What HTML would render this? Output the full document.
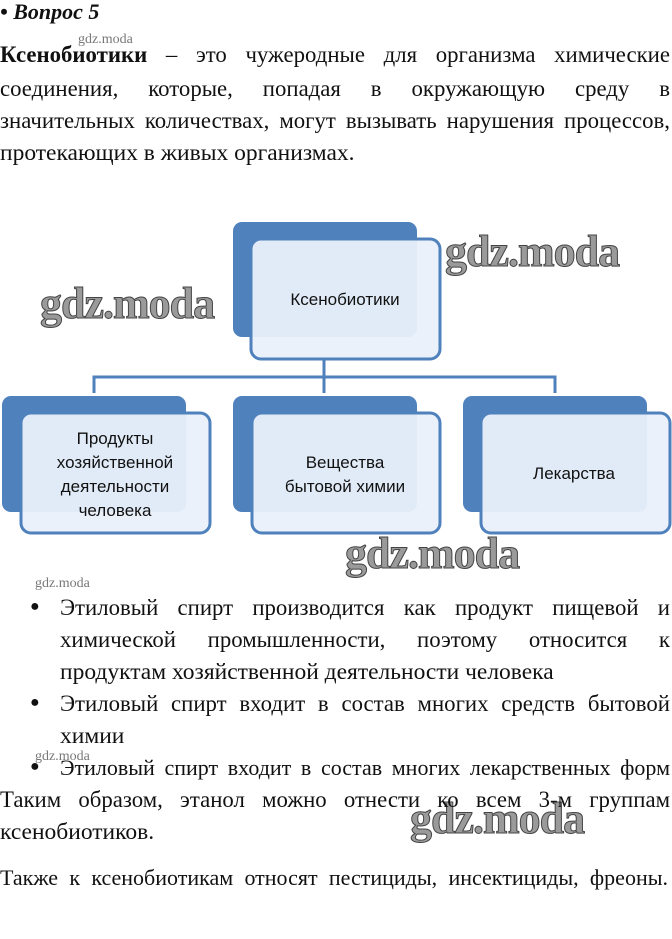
<!DOCTYPE html>
<html><head><meta charset="utf-8"><style>
body{margin:0;background:#fff;}
#p{position:relative;width:672px;height:939px;overflow:hidden;font-family:"Liberation Serif",serif;font-size:22.8px;color:#111;}
.l{position:absolute;white-space:nowrap;line-height:22px;}
.j{text-align:justify;text-align-last:justify;}
.wm{position:absolute;font-family:"Liberation Serif",serif;font-weight:bold;color:#9a9a9a;-webkit-text-stroke:1px #444;white-space:nowrap;letter-spacing:-1px;}
.sw{position:absolute;font-family:"Liberation Serif",serif;color:#777;font-size:14px;white-space:nowrap;}
.b{position:absolute;left:30px;font-size:16px;}
</style></head><body><div id="p">
<div class="l" style="left:0;top:1px;font-weight:bold;font-style:italic;font-size:22px;">• Вопрос 5</div>
<div class="sw" style="left:78px;top:32px;">gdz.moda</div>
<div class="l j" style="left:0;top:44px;width:670px;"><b>Ксенобиотики</b> – это чужеродные для организма химические</div>
<div class="l j" style="left:0;top:78px;width:670px;">соединения, которые, попадая в окружающую среду в</div>
<div class="l j" style="left:0;top:110px;width:670px;">значительных количествах, могут вызывать нарушения процессов,</div>
<div class="l" style="left:0;top:142px;font-size:23.5px;">протекающих в живых организмах.</div>

<svg style="position:absolute;left:0;top:0" width="672" height="939">
<g fill="#4f81bd">
<rect x="233" y="222" width="184" height="115" rx="9"/>
<rect x="2" y="396" width="184" height="116" rx="9"/>
<rect x="233" y="396" width="184" height="116" rx="9"/>
<rect x="463" y="396" width="184" height="116" rx="9"/>
</g>
<g fill="#e9f0fa" fill-opacity="0.95" stroke="#4f81bd" stroke-width="3">
<rect x="251" y="239" width="189" height="120" rx="10"/>
<rect x="21" y="413" width="189" height="120" rx="10"/>
<rect x="252" y="413" width="188" height="120" rx="10"/>
<rect x="481" y="413" width="189" height="120" rx="10"/>
</g>
<g stroke="#4f81bd" stroke-width="3" fill="none">
<path d="M324 359V377M94 393V377H555V393M324 377V393"/>
</g>
<g font-family="'Liberation Sans',sans-serif" font-size="17" fill="#111" text-anchor="middle">
<text x="345" y="305">Ксенобиотики</text>
<text x="115" y="444">Продукты</text>
<text x="115" y="468">хозяйственной</text>
<text x="115" y="492">деятельности</text>
<text x="115" y="516">человека</text>
<text x="345" y="468">Вещества</text>
<text x="345" y="492">бытовой химии</text>
<text x="574" y="479">Лекарства</text>
</g>
</svg>

<div class="wm" style="left:445px;top:226px;font-size:44px;">gdz.moda</div>
<div class="wm" style="left:40px;top:278px;font-size:44px;">gdz.moda</div>
<div class="wm" style="left:345px;top:528px;font-size:44px;">gdz.moda</div>
<div class="wm" style="left:410px;top:793px;font-size:44px;">gdz.moda</div>
<div class="sw" style="left:35px;top:576px;">gdz.moda</div>
<div class="sw" style="left:35px;top:749px;">gdz.moda</div>

<div class="b" style="top:598px;">●</div>
<div class="l j" style="left:60px;top:597px;width:610px;">Этиловый спирт производится как продукт пищевой и</div>
<div class="l j" style="left:60px;top:629px;width:610px;">химической промышленности, поэтому относится к</div>
<div class="l" style="left:60px;top:661px;font-size:23.5px;">продуктам хозяйственной деятельности человека</div>
<div class="b" style="top:694px;">●</div>
<div class="l j" style="left:60px;top:693px;width:610px;">Этиловый спирт входит в состав многих средств бытовой</div>
<div class="l" style="left:60px;top:725px;font-size:23.5px;">химии</div>
<div class="b" style="top:758px;">●</div>
<div class="l j" style="left:60px;top:757px;width:610px;font-size:22px;">Этиловый спирт входит в состав многих лекарственных форм</div>
<div class="l j" style="left:0;top:789px;width:670px;">Таким образом, этанол можно отнести ко всем 3-м группам</div>
<div class="l" style="left:0;top:821px;font-size:23.5px;">ксенобиотиков.</div>
<div class="l j" style="left:0;top:867px;width:668px;font-size:22px;">Также к ксенобиотикам относят пестициды, инсектициды, фреоны.</div>
</div></body></html>
